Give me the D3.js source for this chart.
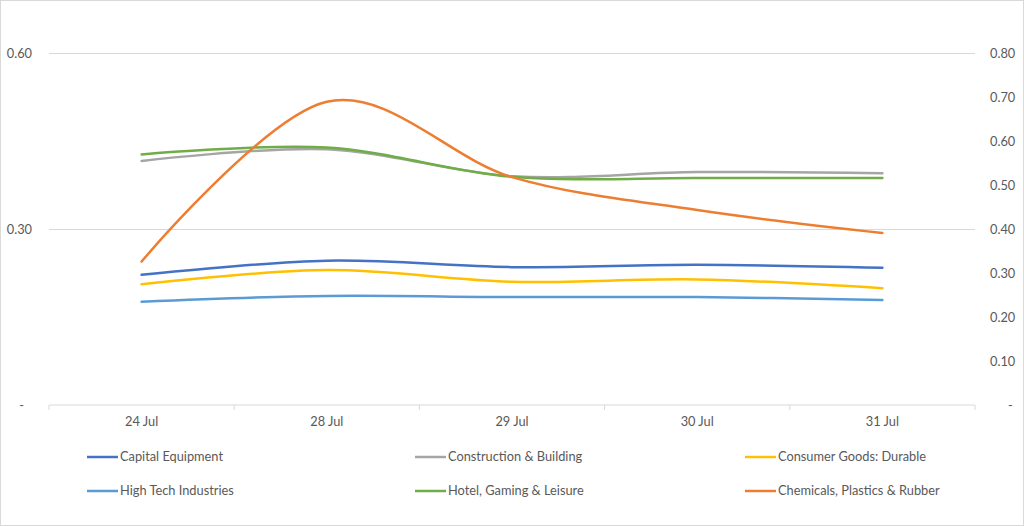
<!DOCTYPE html>
<html>
<head>
<meta charset="utf-8">
<script src="https://cdn.jsdelivr.net/npm/d3@7"></script>
<style>
  body { margin: 0; background: #fff; }
  text { font-family: Lato, "Open Sans", sans-serif; font-size: 12.8px; fill: #595959; }
</style>
</head>
<body>
<div id="chart"></div>
<script>
// Categorías y valores
const categories = ['24 Jul', '28 Jul', '29 Jul', '30 Jul', '31 Jul'];

const capitalEquipment = [0.222, 0.246, 0.235, 0.239, 0.234];
const constructionBuilding = [0.416, 0.436, 0.390, 0.397, 0.395];
const consumerGoodsDurable = [0.206, 0.230, 0.210, 0.214, 0.199];
const highTechIndustries = [0.176, 0.186, 0.184, 0.184, 0.179];
const hotelGamingLeisure = [0.427, 0.439, 0.389, 0.387, 0.387];
const chemicalsPlasticsRubber = [0.326, 0.689, 0.518, 0.443, 0.391]; // eje secundario

const leftTicks = [0, 0.3, 0.6];
const rightTicks = [0, 0.1, 0.2, 0.3, 0.4, 0.5, 0.6, 0.7, 0.8];

// Series: nombre, datos, color, eje
const series = [
    { name: 'Capital Equipment', values: capitalEquipment, color: '#4472C4', axis: 'left' },
    { name: 'Construction & Building', values: constructionBuilding, color: '#A5A5A5', axis: 'left' },
    { name: 'Consumer Goods: Durable', values: consumerGoodsDurable, color: '#FFC000', axis: 'left' },
    { name: 'High Tech Industries', values: highTechIndustries, color: '#5B9BD5', axis: 'left' },
    { name: 'Hotel, Gaming & Leisure', values: hotelGamingLeisure, color: '#70AD47', axis: 'left' },
    { name: 'Chemicals, Plastics & Rubber', values: chemicalsPlasticsRubber, color: '#ED7D31', axis: 'right' }
];

// Configuración
const width = 1024;
const height = 526;
const plot = { left: 49, right: 975, top: 53, bottom: 405 };

const svg = d3.select('#chart')
    .append('svg')
    .attr('width', width)
    .attr('height', height);

// Borde del gráfico
svg.append('rect')
    .attr('x', 0.5).attr('y', 0.5)
    .attr('width', width - 1).attr('height', height - 1)
    .attr('fill', '#fff')
    .attr('stroke', '#D9D9D9');

// Escalas
const x = d3.scaleBand()
    .domain(categories)
    .range([plot.left, plot.right]);

const yLeft = d3.scaleLinear()
    .domain([0, 0.6])
    .range([plot.bottom, plot.top]);

const yRight = d3.scaleLinear()
    .domain([0, 0.8])
    .range([plot.bottom, plot.top]);

const fmt = d => d === 0 ? '-' : d3.format('.2f')(d);

// Líneas de cuadrícula
svg.append('g')
    .attr('transform', `translate(${plot.left},0)`)
    .call(d3.axisLeft(yLeft).tickValues(leftTicks.filter(d => d > 0))
        .tickSize(-(plot.right - plot.left)).tickFormat(''))
    .call(g => g.select('.domain').remove())
    .call(g => g.selectAll('line').attr('stroke', '#D9D9D9'));

// Eje izquierdo
svg.append('g')
    .attr('transform', `translate(${plot.left},0)`)
    .call(d3.axisLeft(yLeft).tickValues(leftTicks).tickSize(0).tickPadding(17).tickFormat(fmt))
    .call(g => g.select('.domain').remove())
    .call(g => g.selectAll('text').attr('dx', d => d === 0 ? -8 : 0));

// Eje derecho
svg.append('g')
    .attr('transform', `translate(${plot.right},0)`)
    .call(d3.axisRight(yRight).tickValues(rightTicks).tickSize(0).tickPadding(15).tickFormat(fmt))
    .call(g => g.select('.domain').remove())
    .call(g => g.selectAll('text').attr('dx', d => d === 0 ? 18 : 0));

// Eje de categorías
const xAxis = svg.append('g')
    .attr('transform', `translate(0,${plot.bottom})`);

xAxis.append('line')
    .attr('x1', plot.left).attr('x2', plot.right)
    .attr('stroke', '#D9D9D9');

xAxis.selectAll('.tick-mark')
    .data(categories.map(c => x(c)).concat([x.range()[1]]))
    .enter()
    .append('line')
    .attr('class', 'tick-mark')
    .attr('x1', d => d).attr('x2', d => d)
    .attr('y1', 0).attr('y2', 5)
    .attr('stroke', '#D9D9D9');

xAxis.selectAll('.cat-label')
    .data(categories)
    .enter()
    .append('text')
    .attr('class', 'cat-label')
    .attr('x', d => x(d) + x.bandwidth() / 2)
    .attr('y', 21)
    .style('text-anchor', 'middle')
    .text(d => d);

// Líneas suavizadas
const cx = i => x(categories[i]) + x.bandwidth() / 2;

series.forEach(s => {
    const y = s.axis === 'left' ? yLeft : yRight;
    const line = d3.line()
        .x((d, i) => cx(i))
        .y(d => y(d))
        .curve(d3.curveCardinal.tension(0));
    svg.append('path')
        .datum(s.values)
        .attr('d', line)
        .attr('fill', 'none')
        .attr('stroke', s.color)
        .attr('stroke-width', 2.5)
        .attr('stroke-linecap', 'round');
});

// Leyenda
const legendCols = [87, 415, 745];
const legendRows = [457, 491];

const legend = svg.selectAll('.legend')
    .data(series)
    .enter()
    .append('g')
    .attr('class', 'legend')
    .attr('transform', (d, i) => `translate(${legendCols[i % 3]},${legendRows[Math.floor(i / 3)]})`);

legend.append('line')
    .attr('x1', 0).attr('x2', 31)
    .attr('stroke', d => d.color)
    .attr('stroke-width', 2.5);

legend.append('text')
    .attr('x', 33)
    .attr('dy', '0.35em')
    .text(d => d.name);
</script>
</body>
</html>
